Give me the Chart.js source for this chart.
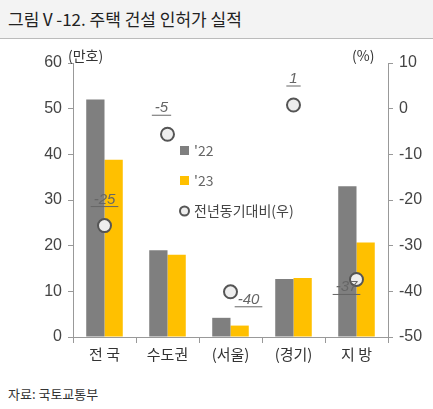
<!DOCTYPE html>
<html><head><meta charset="utf-8">
<script src="https://cdn.jsdelivr.net/npm/chart.js@4"></script>
<style>
body{margin:0;width:433px;height:409px;overflow:hidden;background:#fff;font-family:"Noto Sans CJK KR",sans-serif;}
#title{height:38px;line-height:38px;padding-left:8px;font-size:17px;color:#222;background:#f3f3f3;border-bottom:1px solid #bbb;}
#wrap{position:relative;width:443px;height:330px;}
#src{position:absolute;left:8px;top:384px;font-size:13px;color:#333;}
</style></head><body>
<div id="title">그림Ⅴ-12. 주택 건설 인허가 실적</div>
<div id="wrap"><canvas id="myChart"></canvas></div>
<div id="src">자료: 국토교통부</div>
<script>
var categories = ['전 국', '수도권', '(서울)', '(경기)', '지 방'];
var y22 = [52, 19, 4.2, 12.7, 33];
var y23 = [38.8, 18, 2.5, 12.9, 20.7];
var yoy = [-25.6, -5.6, -40.1, 0.8, -37.4];
var yoyLabels = ['-25', '-5', '-40', '1', '-37'];
var leftTicks = [0, 10, 20, 30, 40, 50, 60];
var rightTicks = [-50, -40, -30, -20, -10, 0, 10];

var labelOffsets = [[0, -22], [-6, -22], [18, 12], [0, -22], [-10, 12]];

var extras = {
  id: 'extras',
  afterDatasetsDraw: function(chart) {
    var c = chart.ctx, meta = chart.getDatasetMeta(2);
    c.save();
    c.font = 'italic 15px "Liberation Sans"';
    c.fillStyle = '#666'; c.strokeStyle = '#666'; c.textAlign = 'center';
    meta.data.forEach(function(p, i) {
      var x = p.x + labelOffsets[i][0], y = p.y + labelOffsets[i][1];
      c.fillText(yoyLabels[i], x, y);
      var w = c.measureText(yoyLabels[i]).width + 6;
      c.beginPath(); c.moveTo(x - w/2, y + 3); c.lineTo(x + w/2, y + 3); c.stroke();
    });
    // legend
    var lx = 180, ly = 112;
    c.font = '14px "Noto Sans CJK KR"'; c.textAlign = 'left'; c.textBaseline = 'middle';
    c.fillStyle = '#7f7f7f'; c.fillRect(lx, ly - 5, 9, 9);
    c.fillStyle = '#666'; c.fillText("'22", lx + 14, ly);
    c.fillStyle = '#ffc000'; c.fillRect(lx, ly + 25, 9, 9);
    c.fillStyle = '#666'; c.fillText("'23", lx + 14, ly + 30);
    c.beginPath(); c.arc(lx + 4.5, ly + 60, 4.5, 0, Math.PI*2);
    c.fillStyle = '#eee'; c.fill(); c.lineWidth = 2; c.strokeStyle = '#555'; c.stroke();
    c.fillStyle = '#444'; c.fillText('전년동기대비(우)', lx + 14, ly + 60);
    // unit labels
    c.font = '14px "Noto Sans CJK KR"'; c.fillStyle = '#333';
    c.fillText('(만호)', 68, 17);
    c.fillText('(%)', 352, 17);
    c.restore();
  }
};

new Chart(document.getElementById('myChart'), {
  type: 'bar',
  data: {
    labels: categories,
    datasets: [
      { label: "'22", data: y22, backgroundColor: '#7f7f7f', yAxisID: 'y', order: 2 },
      { label: "'23", data: y23, backgroundColor: '#ffc000', yAxisID: 'y', order: 2 },
      { type: 'line', label: '전년동기대비(우)', data: yoy, yAxisID: 'y1', showLine: false,
        pointRadius: 6.5, pointBorderWidth: 2, pointBackgroundColor: '#eeeeee', pointBorderColor: '#555', order: 1 }
    ]
  },
  options: {
    responsive: true, maintainAspectRatio: false, animation: false,
    layout: { padding: { top: 24, left: 0, right: 0, bottom: 4 } },
    plugins: { legend: { display: false }, tooltip: { enabled: false } },
    datasets: { bar: { categoryPercentage: 0.58, barPercentage: 1 } },
    scales: {
      x: {
        grid: { offset: true, drawOnChartArea: false, color: '#999', tickLength: 6 },
        border: { color: '#999' },
        ticks: { color: '#333', font: { size: 15, family: 'Noto Sans CJK KR' }, padding: 2 }
      },
      y: {
        min: 0, max: 60,
        afterBuildTicks: function(a) { a.ticks = leftTicks.map(function(v) { return { value: v }; }); },
        afterFit: function(a) { a.width = 73; },
        grid: { drawOnChartArea: false, color: '#999', tickLength: 5 },
        border: { color: '#999' },
        ticks: { color: '#444', font: { size: 16, family: 'Liberation Sans' }, padding: 6 }
      },
      y1: {
        position: 'right', min: -50, max: 10,
        afterBuildTicks: function(a) { a.ticks = rightTicks.map(function(v) { return { value: v }; }); },
        afterFit: function(a) { a.width = 55; },
        grid: { drawOnChartArea: false, color: '#999', tickLength: 5 },
        border: { color: '#999' },
        ticks: { color: '#444', font: { size: 16, family: 'Liberation Sans' }, padding: 6 }
      }
    }
  },
  plugins: [extras]
});
</script>
</body></html>
